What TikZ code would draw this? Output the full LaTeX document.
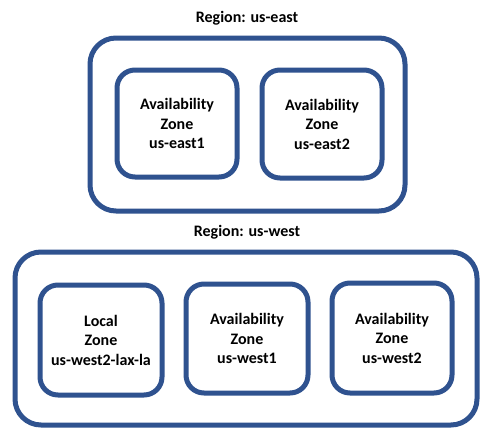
\documentclass[tikz,border=0pt]{standalone}
\usepackage{fontspec}
\setmainfont{Carlito}
\definecolor{zoneblue}{HTML}{2F528F}
\begin{document}
\begin{tikzpicture}[x=1pt,y=-1pt,
  region/.style={draw=zoneblue,line width=5pt,rounded corners=26pt,inner sep=0pt},
  zone/.style={draw=zoneblue,line width=5pt,rounded corners=18pt,align=center,
    font=\bfseries\fontsize{16}{19.5}\selectfont,inner sep=0pt},
  title/.style={font=\bfseries\fontsize{16}{19.5}\selectfont,inner sep=0pt}]
\useasboundingbox[fill=white] (0,0) rectangle (494,439);
% us-east
\node[title] (teast) at (247,18) {Region: us-east};
\node[region,minimum width=315pt,minimum height=173pt] (east) at (247.5,124.5) {};
\node[zone,minimum width=120pt,minimum height=107pt] (e1) at (177,123.5) {Availability\\Zone\\us-east1};
\node[zone,minimum width=120pt,minimum height=108pt] (e2) at (322,124) {Availability\\Zone\\us-east2};
% us-west
\node[title] (twest) at (247,232) {Region: us-west};
\node[region,minimum width=462pt,minimum height=173pt] (west) at (246,338.5) {};
\node[zone,minimum width=122pt,minimum height=110pt] (lz) at (101,340) {Local\\Zone\\us-west2-lax-la};
\node[zone,minimum width=122pt,minimum height=109pt] (w1) at (247,338.5) {Availability\\Zone\\us-west1};
\node[zone,minimum width=120pt,minimum height=110pt] (w2) at (392,338) {Availability\\Zone\\us-west2};
\end{tikzpicture}
\end{document}
